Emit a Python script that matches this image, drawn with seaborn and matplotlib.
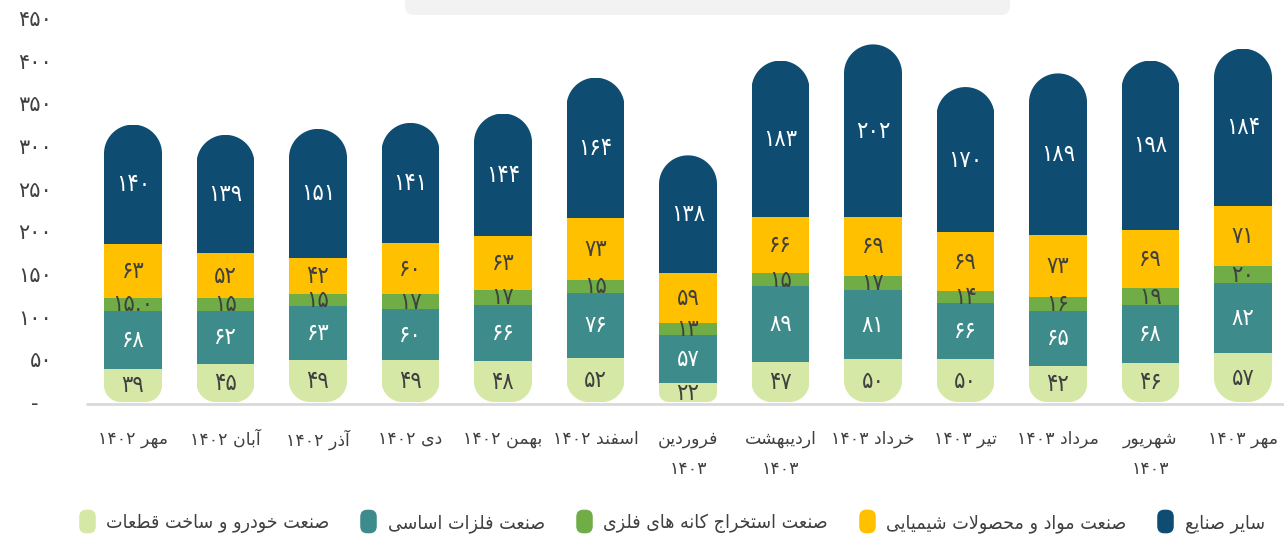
import re
import matplotlib
matplotlib.use("Agg")
import matplotlib.pyplot as plt
import seaborn as sns
import pandas as pd
import numpy as np
from matplotlib.patches import FancyBboxPatch, Polygon
from matplotlib.lines import Line2D
from matplotlib.transforms import IdentityTransform

# ---------------- data ----------------
months = ["مهر ۱۴۰۲", "آبان ۱۴۰۲", "آذر ۱۴۰۲", "دی ۱۴۰۲", "بهمن ۱۴۰۲", "اسفند ۱۴۰۲",
          "فروردین\n۱۴۰۳", "اردیبهشت\n۱۴۰۳", "خرداد ۱۴۰۳", "تیر ۱۴۰۳", "مرداد ۱۴۰۳",
          "شهریور\n۱۴۰۳", "مهر ۱۴۰۳"]
series_names = ["صنعت خودرو و ساخت قطعات", "صنعت فلزات اساسی", "صنعت استخراج کانه های فلزی",
                "صنعت مواد و محصولات شیمیایی", "سایر صنایع"]
car = [39, 45, 49, 49, 48, 52, 22, 47, 50, 50, 42, 46, 57]
metals = [68, 62, 63, 60, 66, 76, 57, 89, 81, 66, 65, 68, 82]
mining = [15.0, 15, 15, 17, 17, 15, 13, 15, 17, 14, 16, 19, 20]
chem = [63, 52, 42, 60, 63, 73, 59, 66, 69, 69, 73, 69, 71]
other = [140, 139, 151, 141, 144, 164, 138, 183, 202, 170, 189, 198, 184]
mining_labels = ["15.0", "15", "15", "17", "17", "15", "13", "15", "17", "14", "16", "19", "20"]
y_ticks = [0, 50, 100, 150, 200, 250, 300, 350, 400, 450]

colors = ["#D5E8A6", "#3D8B8A", "#70AD47", "#FFC000", "#0E4D71"]
text_colors = ["#404040", "white", "#404040", "#404040", "white"]

# ---------------- Persian shaping ----------------
FORMS = {
    '\u0627': ('\uFE8D', '\uFE8E', None, None),
    '\u0622': ('\uFE81', '\uFE82', None, None),
    '\u0628': ('\uFE8F', '\uFE90', '\uFE91', '\uFE92'),
    '\u062A': ('\uFE95', '\uFE96', '\uFE97', '\uFE98'),
    '\u062B': ('\uFE99', '\uFE9A', '\uFE9B', '\uFE9C'),
    '\u062C': ('\uFE9D', '\uFE9E', '\uFE9F', '\uFEA0'),
    '\u062D': ('\uFEA1', '\uFEA2', '\uFEA3', '\uFEA4'),
    '\u062E': ('\uFEA5', '\uFEA6', '\uFEA7', '\uFEA8'),
    '\u062F': ('\uFEA9', '\uFEAA', None, None),
    '\u0630': ('\uFEAB', '\uFEAC', None, None),
    '\u0631': ('\uFEAD', '\uFEAE', None, None),
    '\u0632': ('\uFEAF', '\uFEB0', None, None),
    '\u0698': ('\uFB8A', '\uFB8B', None, None),
    '\u0633': ('\uFEB1', '\uFEB2', '\uFEB3', '\uFEB4'),
    '\u0634': ('\uFEB5', '\uFEB6', '\uFEB7', '\uFEB8'),
    '\u0635': ('\uFEB9', '\uFEBA', '\uFEBB', '\uFEBC'),
    '\u0636': ('\uFEBD', '\uFEBE', '\uFEBF', '\uFEC0'),
    '\u0637': ('\uFEC1', '\uFEC2', '\uFEC3', '\uFEC4'),
    '\u0638': ('\uFEC5', '\uFEC6', '\uFEC7', '\uFEC8'),
    '\u0639': ('\uFEC9', '\uFECA', '\uFECB', '\uFECC'),
    '\u063A': ('\uFECD', '\uFECE', '\uFECF', '\uFED0'),
    '\u0641': ('\uFED1', '\uFED2', '\uFED3', '\uFED4'),
    '\u0642': ('\uFED5', '\uFED6', '\uFED7', '\uFED8'),
    '\u0644': ('\uFEDD', '\uFEDE', '\uFEDF', '\uFEE0'),
    '\u0645': ('\uFEE1', '\uFEE2', '\uFEE3', '\uFEE4'),
    '\u0646': ('\uFEE5', '\uFEE6', '\uFEE7', '\uFEE8'),
    '\u0647': ('\uFEE9', '\uFEEA', '\uFEEB', '\uFEEC'),
    '\u0648': ('\uFEED', '\uFEEE', None, None),
    '\u06CC': ('\uFBFC', '\uFBFD', '\uFBFE', '\uFBFF'),
    '\u06A9': ('\uFB8E', '\uFB8F', '\uFB90', '\uFB91'),
    '\u067E': ('\uFB56', '\uFB57', '\uFB58', '\uFB59'),
    '\u0686': ('\uFB7A', '\uFB7B', '\uFB7C', '\uFB7D'),
    '\u06AF': ('\uFB92', '\uFB93', '\uFB94', '\uFB95'),
}
LAMALEF = {'\u0627': ('\uFEFB', '\uFEFC'), '\u0622': ('\uFEF5', '\uFEF6')}


def _dual(c):
    return c in FORMS and FORMS[c][2] is not None


def shape(s):
    res = []
    n = len(s)
    i = 0
    while i < n:
        c = s[i]
        if c not in FORMS:
            res.append(c)
            i += 1
            continue
        prev = s[i - 1] if i > 0 else None
        pc = prev is not None and _dual(prev)
        nxt = s[i + 1] if i + 1 < n else None
        if c == '\u0644' and nxt in LAMALEF:
            res.append(LAMALEF[nxt][1 if pc else 0])
            i += 2
            continue
        nc = _dual(c) and nxt is not None and nxt in FORMS
        iso, fin, ini, med = FORMS[c]
        if pc and nc:
            res.append(med)
        elif pc:
            res.append(fin)
        elif nc:
            res.append(ini)
        else:
            res.append(iso)
        i += 1
    return ''.join(res)


DIG = str.maketrans('0123456789', '۰۱۲۳۴۵۶۷۸۹')
NUMRUN = r'[0-9\u06F0-\u06F9.]+'


def fa(s):
    lines = []
    for line in str(s).split('\n'):
        sh = shape(line.translate(DIG))
        runs = re.findall(NUMRUN + r'|[^0-9\u06F0-\u06F9.]+', sh)
        out = ''.join(r if re.fullmatch(NUMRUN, r) else r[::-1] for r in reversed(runs))
        lines.append(out)
    return '\n'.join(lines)


# ---------------- figure ----------------
sns.set_style("white")
plt.rcParams['font.family'] = ['DejaVu Sans']

W, H = 1284, 536
fig = plt.figure(figsize=(W / 100, H / 100), dpi=100)
ax_left_px, ax_bottom_px = 86.75, 402
ax = fig.add_axes([ax_left_px / W, (H - ax_bottom_px) / H, 1 - ax_left_px / W, ax_bottom_px / H])
ax.set_facecolor('none')

# faint header box at top
fig.patches.append(FancyBboxPatch((405, H - 15), 605, 40, boxstyle="round,pad=0,rounding_size=9",
                                  transform=IdentityTransform(), facecolor="#F2F2F2",
                                  edgecolor="none", zorder=0))

cats = [fa(m) for m in months]
layers = [car, metals, mining, chem, other]
bar_w = 0.627
bottom = np.zeros(len(cats))
containers = []
for k, vals in enumerate(layers):
    df = pd.DataFrame({"month": cats, "value": vals})
    sns.barplot(data=df, x="month", y="value", order=cats, color=colors[k], width=bar_w,
                bottom=bottom.copy(), ax=ax, saturation=1, linewidth=0, zorder=2, errorbar=None)
    containers.append(ax.containers[-1])
    bottom = bottom + np.array(vals, dtype=float)

xlim = (-0.5, (W - ax_left_px) / 92.5 - 0.5)
ylim = (0, 471)
ax.set_xlim(*xlim)
ax.set_ylim(*ylim)

dx = (xlim[1] - xlim[0]) / (W - ax_left_px)
dy = (ylim[1] - ylim[0]) / ax_bottom_px


def pill_polygon(x0, x1, y0, y1, rt, rb, n=40):
    """Rounded rectangle in data coords with circular corners (radii in pixels)."""
    pts = []
    def arc(cx, cy, r, a0, a1):
        for a in np.linspace(np.radians(a0), np.radians(a1), n):
            pts.append((cx + r * dx * np.cos(a), cy + r * dy * np.sin(a)))
    arc(x1 - rt * dx, y1 - rt * dy, rt, 0, 90)
    arc(x0 + rt * dx, y1 - rt * dy, rt, 90, 180)
    arc(x0 + rb * dx, y0 + rb * dy, rb, 180, 270)
    arc(x1 - rb * dx, y0 + rb * dy, rb, 270, 360)
    return pts


for i in range(len(cats)):
    ptop = containers[-1].patches[i]
    pbot = containers[0].patches[i]
    x0 = ptop.get_x()
    w = ptop.get_width()
    wpx = w / dx
    y1 = ptop.get_y() + ptop.get_height()
    y0 = pbot.get_y()
    rt = min(wpx / 2, ptop.get_height() / dy / 2)
    rb = min(wpx / 2, pbot.get_height() / dy / 2)
    poly = Polygon(pill_polygon(x0, x0 + w, y0, y1, rt, rb), closed=True,
                   transform=ax.transData, facecolor='none', edgecolor='none')
    for cont in containers:
        cont.patches[i].set_clip_path(poly)

# value labels
bottom = np.zeros(len(cats))
for k, vals in enumerate(layers):
    for i, v in enumerate(vals):
        lab = mining_labels[i] if k == 2 else str(v)
        ax.text(i, bottom[i] + v / 2, fa(lab), ha='center', va='center', fontsize=17,
                fontstretch='condensed', color=text_colors[k], zorder=5)
    bottom = bottom + np.array(vals, dtype=float)

# axes styling
for s in ['top', 'right', 'left', 'bottom']:
    ax.spines[s].set_visible(False)
ax.axhline(-2.5, color='#D9D9D9', lw=2, clip_on=False, zorder=1)
ax.set_yticks(y_ticks)
ax.set_yticklabels(['-  ' if t == 0 else fa(str(t)) for t in y_ticks], fontsize=15, color='#404040')
ax.tick_params(axis='y', length=0, pad=25)
ax.set_xticks(range(len(cats)))
ax.set_xticklabels(cats, fontsize=12.5, color='#404040', linespacing=1.85)
ax.tick_params(axis='x', length=0, pad=20)
ax.set_xlabel('')
ax.set_ylabel('')
ax.grid(False)

# legend with pill markers
pill = FancyBboxPatch((-0.35, -0.5), 0.7, 1.0, boxstyle="round,pad=0,rounding_size=0.3").get_path()
handles = [Line2D([], [], linestyle='none', marker=pill, markersize=17, markerfacecolor=c,
                  markeredgecolor='none') for c in colors]
fig.legend(handles, [fa(n) for n in series_names], ncol=5, loc='center',
           bbox_to_anchor=(672 / W, 1 - 523 / H), frameon=False,
           handlelength=0.8, handletextpad=0.6, columnspacing=1.6,
           labelcolor='#404040', prop={'size': 14, 'stretch': 'condensed'})

fig.savefig("out.png", dpi=100)
